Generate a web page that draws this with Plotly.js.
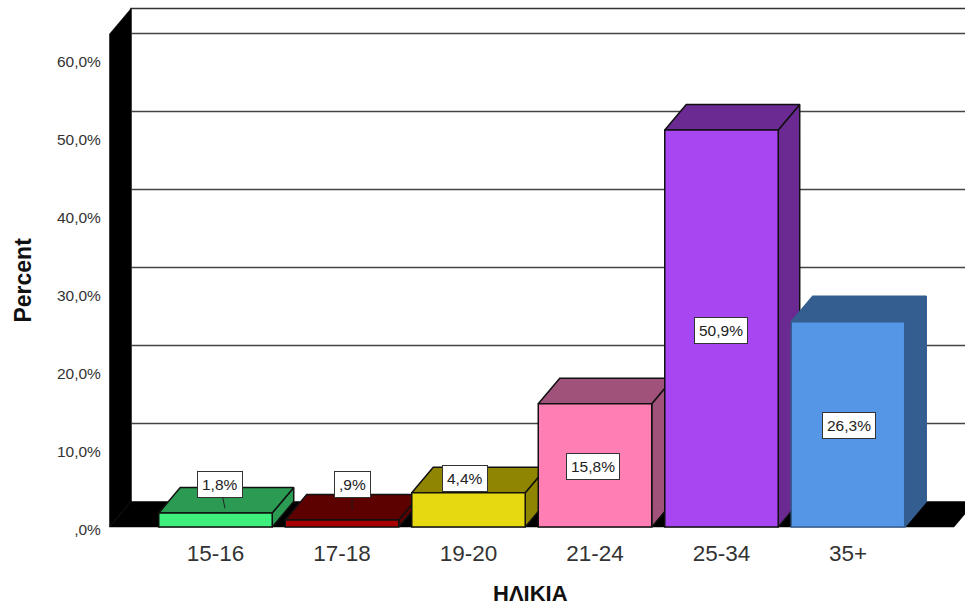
<!DOCTYPE html>
<html>
<head>
<meta charset="utf-8">
<script src="https://cdn.plot.ly/plotly-3.0.1.min.js"></script>
<style>html,body{margin:0;padding:0;background:#fff;overflow:hidden}#chart{width:965px;height:608px}</style>
</head>
<body>
<div id="chart"></div>
<script>
var categories = ["15-16","17-18","19-20","21-24","25-34","35+"];
var values = [1.8,0.9,4.4,15.8,50.9,26.3];
var valueLabels = ["1,8%",",9%","4,4%","15,8%","50,9%","26,3%"];
var gridValues = [10,20,30,40,50,60];
var tickValues = [0,10,20,30,40,50,60];
var tickLabels = [",0%","10,0%","20,0%","30,0%","40,0%","50,0%","60,0%"];
var frontColors = ["#3FEF7E","#A80000","#E6D911","#FF7FB4","#A846F2","#5596E6"];
var shadeColors = ["#2B9A52","#5C0000","#8F8500","#A0527A","#6A2A92","#345E90"];
var edgeColors = ["#111","#111","#111","#111","#111","#345E90"];

var depthX = 0.17, depthY = 3.27, barWidth = 0.897, wallTop = 63.2;
var xLeft = -0.838, xRight = 5.838;
var xRange = [-0.8577, 5.925], yRange = [-0.256, 67.56];

function poly(xs, ys, fill, line, w) {
  return {type:"scatter", mode:"lines", x:xs, y:ys, fill:"toself", fillcolor:fill,
    line:{color:line, width:w === undefined ? 1.5 : w}, hoverinfo:"skip", showlegend:false};
}
function hline(xs, ys, color, w) {
  return {type:"scatter", mode:"lines", x:xs, y:ys, line:{color:color, width:w},
    hoverinfo:"skip", showlegend:false};
}

var traces = [];
// back wall outline
traces.push(hline([xLeft+depthX, xLeft+depthX, xRange[1]+1], [depthY, wallTop+depthY, wallTop+depthY], "#333", 1.6));
// back wall grid
gridValues.forEach(function(v){
  traces.push(hline([xLeft+depthX, xRange[1]+1], [v+depthY, v+depthY], "#444", 1.4));
});
// left wall and floor
traces.push(poly([xLeft,xLeft+depthX,xLeft+depthX,xLeft,xLeft],[wallTop,wallTop+depthY,depthY,0,wallTop],"#000","#000",0.5));
traces.push(poly([xLeft,xLeft+depthX,xRight+depthX,xRight,xLeft],[0,depthY,depthY,0,0],"#000","#000",0.5));
// depth faces, left to right
values.forEach(function(v,i){
  var l = i-barWidth/2, r = i+barWidth/2;
  traces.push(poly([r,r+depthX,r+depthX,r,r],[0,depthY,v+depthY,v,0],shadeColors[i],edgeColors[i]));
  traces.push(poly([l,l+depthX,r+depthX,r,l],[v,v+depthY,v+depthY,v,v],shadeColors[i],edgeColors[i]));
});
// front faces
traces.push({type:"bar", x:categories.map(function(c,i){return i;}), y:values, width:barWidth,
  xaxis:"x2", yaxis:"y2", showlegend:false, hoverinfo:"skip",
  marker:{color:frontColors, line:{color:edgeColors, width:1.5}}});

// label placement
var labelShiftX = [0,0,-3,-2,0,1];
var labelShiftY = [0,0,0,-1,-2,-1];
var labelY = [5.5,5.4,6.2,null,null,null];
var leaderTipX = [0.075,0.08,null,null,null,null];
var leaderTipY = [2.4,2.2,null,null,null,null];

var annotations = values.map(function(v,i){
  var base = {text:valueLabels[i], xref:"x", yref:"y", bgcolor:"#fff", bordercolor:"#333", borderwidth:1,
    borderpad:4, font:{family:"Liberation Sans, Arial, sans-serif", size:15.5, color:"#222"}};
  if (leaderTipX[i] !== null) {
    base.x = i + leaderTipX[i];
    base.y = leaderTipY[i];
    base.showarrow = true; base.arrowhead = 0; base.arrowwidth = 1; base.arrowcolor = "#222";
    base.axref = "pixel"; base.ayref = "pixel";
    base.ax = i === 0 ? -5 : 0;
    base.ay = (leaderTipY[i]-labelY[i])*7.8;
  } else {
    base.x = i;
    base.y = labelY[i] === null ? v/2 : labelY[i];
    base.xshift = labelShiftX[i];
    base.yshift = labelShiftY[i];
    base.showarrow = false;
  }
  return base;
});
annotations.push({text:"Percent", xref:"paper", yref:"paper", x:-0.1, y:0.47, xanchor:"center", yanchor:"middle",
  textangle:-90, showarrow:false, xshift:2,
  font:{family:"Liberation Sans, Arial, sans-serif", size:23, color:"#111", weight:"bold"}});
annotations.push({text:"ΗΛΙΚΙΑ", xref:"paper", yref:"paper", x:0.494, y:-0.122, xanchor:"center", yanchor:"middle",
  showarrow:false,
  font:{family:"Liberation Sans, Arial, sans-serif", size:22, color:"#111", weight:"bold"}});

var layout = {
  width:965, height:608, margin:{l:107,r:0,t:0,b:79}, paper_bgcolor:"#fff", plot_bgcolor:"#fff",
  showlegend:false, barmode:"overlay", annotations:annotations,
  font:{family:"Liberation Sans, Arial, sans-serif", color:"#333"},
  xaxis:{range:xRange, tickmode:"array", tickvals:categories.map(function(c,i){return i;}), ticktext:categories,
    showgrid:false, zeroline:false, showline:false, ticks:"outside", ticklen:4, tickcolor:"rgba(0,0,0,0)",
    tickfont:{size:22.5, color:"#333"}},
  yaxis:{range:yRange, tickmode:"array", tickvals:tickValues, ticktext:tickLabels, showgrid:false, zeroline:false,
    showline:false, ticks:"outside", ticklen:2, tickcolor:"rgba(0,0,0,0)", ticklabelshift:3, tickfont:{size:15.5, color:"#333"}},
  xaxis2:{range:xRange, overlaying:"x", visible:false, showgrid:false, zeroline:false},
  yaxis2:{range:yRange, overlaying:"y", visible:false, showgrid:false, zeroline:false}
};
Plotly.newPlot("chart", traces, layout, {displayModeBar:false, staticPlot:true});
</script>
</body>
</html>
